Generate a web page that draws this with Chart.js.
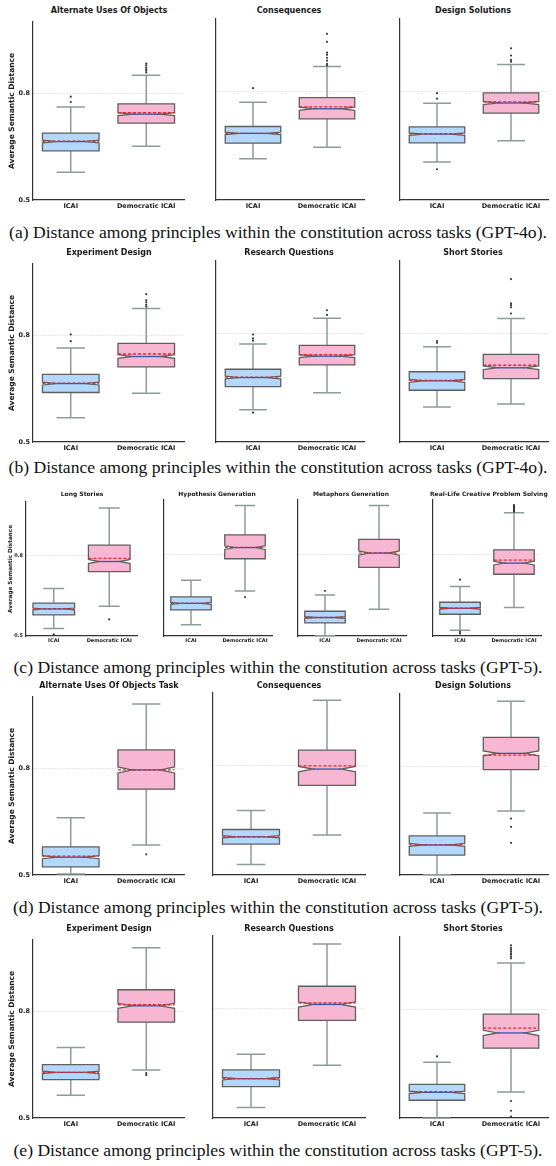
<!DOCTYPE html>
<html>
<head>
<meta charset="utf-8">
<script src="https://cdn.jsdelivr.net/npm/chart.js"></script>
<style>
html,body{margin:0;padding:0;background:#fff}
#fig{position:relative;width:556px;height:1166px;overflow:hidden}
#fig canvas{position:absolute}
.ttl{position:absolute;text-align:center;font-family:'DejaVu Sans',sans-serif;font-weight:bold;color:#1a1a1a;white-space:nowrap}
.cap{position:absolute;left:0;width:556px;text-align:center;font-family:'Liberation Serif',serif;font-size:17.6px;line-height:20px;color:#111;white-space:nowrap}
</style>
</head>
<body>
<div id="fig"></div>
<script>
// ===================== DATA =====================
// every box: [whiskerLow, q1, median, q3, whiskerHigh, mean]
const groups=['ICAI','Democratic ICAI'];
const yTicks=[0.5,0.8];

// (a) GPT-4o
const aTasks=['Alternate Uses Of Objects','Consequences','Design Solutions'];
const aIcai=[[0.578,0.638,0.664,0.688,0.761,0.665],[0.614,0.657,0.684,0.703,0.770,0.684],[0.605,0.658,0.682,0.702,0.767,0.683]];
const aDemo=[[0.651,0.716,0.741,0.770,0.850,0.745],[0.646,0.724,0.752,0.783,0.869,0.757],[0.664,0.740,0.768,0.796,0.874,0.771]];
const aIcaiOut=[[0.775,0.790],[0.809],[0.585,0.780,0.795]];
const aDemoOut=[[0.858,0.863,0.867,0.872,0.878,0.883],[0.872,0.876,0.885,0.893,0.901,0.907,0.937,0.959],[0.882,0.887,0.899,0.919]];

// (b) GPT-4o
const bTasks=['Experiment Design','Research Questions','Short Stories'];
const bIcai=[[0.568,0.639,0.664,0.690,0.764,0.665],[0.589,0.653,0.678,0.701,0.771,0.679],[0.597,0.643,0.669,0.694,0.763,0.670]];
const bDemo=[[0.637,0.711,0.740,0.777,0.875,0.747],[0.636,0.713,0.737,0.767,0.842,0.741],[0.605,0.675,0.705,0.742,0.841,0.712]];
const bIcaiOut=[[0.783,0.802],[0.581,0.780,0.786,0.797],[0.774,0.779]];
const bDemoOut=[[0.880,0.885,0.892,0.898,0.915],[0.851,0.864],[0.855,0.872,0.878,0.883,0.950]];

// (c) GPT-5
const cTasks=['Long Stories','Hypothesis Generation','Metaphors Generation','Real-Life Creative Problem Solving'];
const cIcai=[[0.528,0.579,0.601,0.623,0.677,0.601],[0.541,0.596,0.620,0.644,0.705,0.620],[0.501,0.548,0.568,0.591,0.651,0.568],[0.521,0.580,0.602,0.624,0.682,0.602]];
const cDemo=[[0.611,0.740,0.778,0.839,0.978,0.790],[0.665,0.784,0.825,0.872,0.980,0.826],[0.598,0.752,0.805,0.855,0.980,0.805],[0.605,0.727,0.768,0.817,0.953,0.779]];
const cIcaiOut=[[0.506],[],[0.666],[0.509,0.515,0.707]];
const cDemoOut=[[0.562],[0.643],[],[0.957,0.960,0.963,0.966,0.969,0.972,0.975,0.978,0.981]];

// (d) GPT-5
const dTasks=['Alternate Uses Of Objects Task','Consequences','Design Solutions'];
const dIcai=[[0.503,0.523,0.550,0.579,0.661,0.553],[0.529,0.585,0.605,0.625,0.677,0.605],[0.501,0.555,0.583,0.608,0.671,0.583]];
const dDemo=[[0.584,0.741,0.795,0.851,0.980,0.795],[0.610,0.746,0.791,0.843,0.980,0.800],[0.677,0.791,0.836,0.880,0.980,0.831]];
const dIcaiOut=[[],[],[]];
const dDemoOut=[[0.558],[],[0.589,0.633,0.656]];

// (e) GPT-5
const eTasks=['Experiment Design','Research Questions','Short Stories'];
const eIcai=[[0.564,0.608,0.628,0.650,0.698,0.628],[0.529,0.586,0.608,0.632,0.675,0.608],[0.500,0.549,0.571,0.593,0.654,0.573]];
const eDemo=[[0.635,0.769,0.815,0.860,0.978,0.818],[0.645,0.768,0.812,0.862,0.978,0.816],[0.572,0.693,0.735,0.787,0.928,0.748]];
const eIcaiOut=[[],[],[0.670]];
const eDemoOut=[[0.621,0.626],[],[0.504,0.520,0.547,0.941,0.946,0.952,0.955,0.960,0.965,0.970,0.977]];

const captions=[
  '(a) Distance among principles within the constitution across tasks (GPT-4o).',
  '(b) Distance among principles within the constitution across tasks (GPT-4o).',
  '(c) Distance among principles within the constitution across tasks (GPT-5).',
  '(d) Distance among principles within the constitution across tasks (GPT-5).',
  '(e) Distance among principles within the constitution across tasks (GPT-5).'
];

// ===================== STYLE / LAYOUT =====================
const FONT="'DejaVu Sans'";
const FILLS=['#b3d8fc','#f7b7d2'];
const EDGE='#5f5f5f', WHISK='#8d9b9b', MEDIAN='#2e58a6', MEAN='#e0262a';
const NOTCH_N=420; // sample size used for notch height (1.57*IQR/sqrt(n))

const rows=[
  {tasks:aTasks,icai:aIcai,demo:aDemo,io:aIcaiOut,do_:aDemoOut,top:18,bot:200,ttlY:10.5,capY:232.3,axes:[33,213,397],w:152,fT:8,fX:6.5,fY:7.5,fK:6.5,xH:12},
  {tasks:bTasks,icai:bIcai,demo:bDemo,io:bIcaiOut,do_:bDemoOut,top:260,bot:442.3,ttlY:252.8,capY:466.7,axes:[33,213,397],w:152,fT:8,fX:6.5,fY:7.5,fK:6.5,xH:12},
  {tasks:cTasks,icai:cIcai,demo:cDemo,io:cIcaiOut,do_:cDemoOut,top:499,bot:636,ttlY:493.5,capY:666.7,axes:[26,161,295,430],w:112,fT:6,fX:5,fY:5.7,fK:5,xH:10},
  {tasks:dTasks,icai:dIcai,demo:dDemo,io:dIcaiOut,do_:dDemoOut,top:693.3,bot:875.3,ttlY:686.2,capY:907.3,axes:[33,213,397],w:152,fT:8,fX:6.5,fY:7.5,fK:6.5,xH:12},
  {tasks:eTasks,icai:eIcai,demo:eDemo,io:eIcaiOut,do_:eDemoOut,top:935.7,bot:1118,ttlY:928.8,capY:1150,axes:[33,213,397],w:152,fT:8,fX:6.5,fY:7.5,fK:6.5,xH:12}
];

// notched boxes drawn through the chart scales
function boxLayer(stats){
  return {
    id:'boxLayer',
    beforeDatasetsDraw(chart){
      const {ctx,scales:{x,y}}=chart;
      const step=x.getPixelForValue(1)-x.getPixelForValue(0);
      const bw=step*0.75;
      const py=v=>y.getPixelForValue(v);
      stats.forEach((s,i)=>{
        const [lo,q1,med,q3,hi,mean]=s;
        const cx=x.getPixelForValue(i);
        const L=cx-bw/2,R=cx+bw/2,nl=cx-bw/4,nr=cx+bw/4;
        const ci=1.57*(q3-q1)/Math.sqrt(NOTCH_N);
        ctx.save();
        ctx.strokeStyle=WHISK;ctx.lineWidth=1.5;
        ctx.beginPath();
        ctx.moveTo(cx,py(q1));ctx.lineTo(cx,py(lo));
        ctx.moveTo(cx,py(q3));ctx.lineTo(cx,py(hi));
        ctx.moveTo(nl,py(lo));ctx.lineTo(nr,py(lo));
        ctx.moveTo(nl,py(hi));ctx.lineTo(nr,py(hi));
        ctx.stroke();
        const pts=[[L,q1],[R,q1],[R,med-ci],[nr,med],[R,med+ci],[R,q3],[L,q3],[L,med+ci],[nl,med],[L,med-ci]];
        ctx.beginPath();
        pts.forEach(([px,v],k)=>k?ctx.lineTo(px,py(v)):ctx.moveTo(px,py(v)));
        ctx.closePath();
        ctx.fillStyle=FILLS[i];ctx.fill();
        ctx.strokeStyle=EDGE;ctx.lineWidth=1.3;ctx.stroke();
        ctx.strokeStyle=MEDIAN;ctx.lineWidth=1.3;
        ctx.beginPath();ctx.moveTo(nl,py(med));ctx.lineTo(nr,py(med));ctx.stroke();
        ctx.strokeStyle=MEAN;ctx.setLineDash([3,2]);
        ctx.beginPath();ctx.moveTo(L,py(mean));ctx.lineTo(R,py(mean));ctx.stroke();
        ctx.restore();
      });
    }
  };
}

const fig=document.getElementById('fig');
const PAD_T=3,PAD_R=3;

rows.forEach((r,ri)=>{
  r.tasks.forEach((task,ti)=>{
    const first=ti===0;
    const W=first?r.axes[0]:1;
    const left=r.axes[ti]-W;
    const cw=W+r.w+PAD_R, ch=PAD_T+(r.bot-r.top)+r.xH;
    const cv=document.createElement('canvas');
    cv.width=cw;cv.height=ch;
    cv.style.left=left+'px';cv.style.top=(r.top-PAD_T)+'px';
    cv.style.width=cw+'px';cv.style.height=ch+'px';
    fig.appendChild(cv);

    const t=document.createElement('div');
    t.className='ttl';t.textContent=task;
    t.style.left=r.axes[ti]+'px';t.style.width=r.w+'px';
    t.style.fontSize=r.fT+'px';t.style.lineHeight=(r.fT*1.2)+'px';
    t.style.top=(r.ttlY-r.fT*0.6)+'px';
    fig.appendChild(t);

    const pts=[];
    r.io[ti].forEach(v=>pts.push({x:groups[0],y:v}));
    r.do_[ti].forEach(v=>pts.push({x:groups[1],y:v}));

    new Chart(cv,{
      type:'scatter',
      data:{labels:groups,datasets:[{data:pts,pointRadius:1.1,pointBackgroundColor:'#3a3a3a',pointBorderWidth:0}]},
      options:{
        responsive:false,animation:false,events:[],
        layout:{padding:{top:PAD_T,right:PAD_R,left:0,bottom:0}},
        plugins:{legend:{display:false},tooltip:{enabled:false}},
        scales:{
          x:{type:'category',labels:groups,offset:true,
             grid:{display:false,drawTicks:false},
             border:{display:true,color:'#333',width:1.2},
             ticks:{font:{family:FONT,weight:'bold',size:r.fX},color:'#1a1a1a',padding:2,maxRotation:0,autoSkip:false},
             afterFit:s=>{s.height=r.xH;}},
          y:{min:0.5,max:1.0,
             afterBuildTicks:s=>{s.ticks=yTicks.map(v=>({value:v}));},
             grid:{drawTicks:false,lineWidth:0.8,color:c=>(c.tick&&c.tick.value===0.8)?'#d6d6d6':'rgba(0,0,0,0)'},
             border:{display:true,color:'#333',width:1.2,dash:[1.2,1.2]},
             ticks:{display:first,font:{family:FONT,weight:'bold',size:r.fK},color:'#1a1a1a',padding:3,callback:v=>v.toFixed(1)},
             title:{display:first,text:'Average Semantic Distance',color:'#1a1a1a',
                    font:{family:FONT,weight:'bold',size:r.fY,lineHeight:1},
                    padding:{top:(ri===2?11:12.3)-r.fY/2,bottom:0}},
             afterFit:s=>{s.width=W;}}
        }
      },
      plugins:[boxLayer([r.icai[ti],r.demo[ti]])]
    });
  });
  const c=document.createElement('div');
  c.className='cap';c.textContent=captions[ri];
  c.style.top=(r.capY-10)+'px';
  fig.appendChild(c);
});
</script>
</body>
</html>
